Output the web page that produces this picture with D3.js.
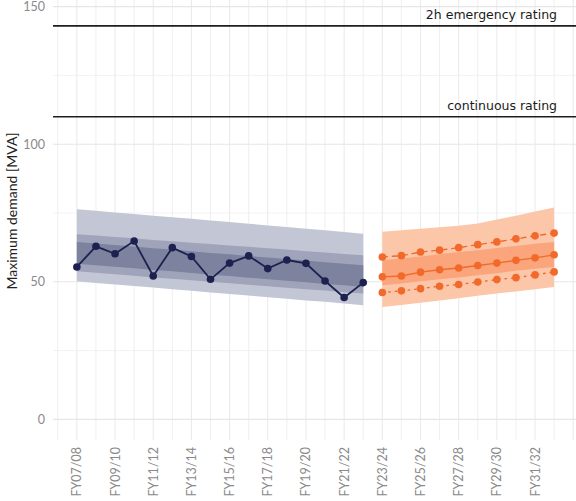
<!DOCTYPE html>
<html>
<head>
<meta charset="utf-8">
<script src="https://cdn.jsdelivr.net/npm/d3@7"></script>
<style>
  html, body { margin: 0; padding: 0; background: #fff; }
  svg { display: block; }
</style>
</head>
<body>
<svg id="chart" width="576" height="501"></svg>
<script>
// ---- data ----
const histYears = d3.range(2007, 2023);
const histDemand = [55.4, 62.9, 60.2, 64.8, 52.1, 62.4, 59.2, 50.9, 56.8, 59.4, 54.8, 57.9, 56.7, 50.3, 44.3, 49.7];
const histOuterHi = [76.4, 75.8, 75.2, 74.6, 74.0, 73.5, 72.9, 72.3, 71.7, 71.1, 70.5, 69.9, 69.3, 68.7, 68.1, 67.5];
const histOuterLo = [50.2, 49.6, 49.0, 48.5, 47.9, 47.3, 46.7, 46.1, 45.6, 45.0, 44.4, 43.8, 43.2, 42.7, 42.1, 41.5];
const histMidHi   = [67.3, 66.8, 66.3, 65.8, 65.2, 64.7, 64.2, 63.7, 63.2, 62.7, 62.2, 61.7, 61.1, 60.6, 60.1, 59.6];
const histMidLo   = [53.8, 53.3, 52.7, 52.2, 51.6, 51.1, 50.6, 50.0, 49.5, 48.9, 48.4, 47.8, 47.3, 46.8, 46.2, 45.7];
const histInHi    = [64.5, 63.9, 63.4, 62.8, 62.2, 61.7, 61.1, 60.5, 60.0, 59.4, 58.8, 58.3, 57.7, 57.1, 56.6, 56.0];
const histInLo    = [56.6, 56.0, 55.5, 54.9, 54.3, 53.8, 53.2, 52.6, 52.1, 51.5, 50.9, 50.4, 49.8, 49.2, 48.7, 48.1];

const fcYears = d3.range(2023, 2033);
const fcHigh = [59.0, 59.5, 60.8, 61.5, 62.4, 63.5, 64.5, 65.6, 66.7, 67.7];
const fcMid  = [51.8, 52.1, 53.5, 54.4, 55.0, 55.9, 56.8, 57.8, 58.7, 59.8];
const fcLow  = [46.1, 46.7, 47.5, 48.4, 49.0, 49.9, 50.8, 51.5, 52.5, 53.6];
const fcOuterHi = [68.2, 68.7, 69.3, 69.8, 70.4, 71.2, 72.6, 74.0, 75.5, 77.0];
const fcOuterLo = [40.8, 41.6, 42.4, 43.2, 44.0, 44.9, 45.7, 46.5, 47.3, 48.1];
const fcMidHi   = [57.8, 58.5, 59.2, 60.0, 60.8, 61.5, 62.3, 63.0, 63.8, 64.5];
const fcMidLo   = [48.7, 49.4, 50.2, 50.9, 51.6, 52.4, 53.1, 54.0, 54.7, 55.4];

const ratings = [
  { name: "2h emergency rating", value: 143 },
  { name: "continuous rating", value: 110 }
];

const yTicks = [0, 50, 100, 150];
const yMinor = [25, 75, 125];
const xLabelYears = d3.range(2007, 2033, 2);
const fyLabel = y => "FY" + String(y % 100).padStart(2, "0") + "/" + String((y + 1) % 100).padStart(2, "0");

// ---- layout ----
const svg = d3.select("#chart");
const panel = { left: 53, right: 578, top: -14, bottom: 440 };

const x = d3.scaleLinear().domain([2005.75, 2033.25]).range([panel.left, panel.right]);
const y = d3.scaleLinear().domain([-7.5, 157.5]).range([panel.bottom, panel.top]);

// ---- grid ----
const grid = svg.append("g");
grid.selectAll("line.vx").data(d3.range(2006, 2034)).join("line")
  .attr("x1", d => x(d)).attr("x2", d => x(d))
  .attr("y1", panel.top).attr("y2", panel.bottom)
  .attr("stroke", "#ebebeb").attr("stroke-width", d => (d % 2 === 1 ? 1.1 : 0.8));
grid.selectAll("line.hy").data(yMinor).join("line")
  .attr("x1", panel.left).attr("x2", panel.right)
  .attr("y1", d => y(d)).attr("y2", d => y(d))
  .attr("stroke", "#efefef").attr("stroke-width", 0.8);
grid.selectAll("line.hm").data(yTicks).join("line")
  .attr("x1", panel.left).attr("x2", panel.right)
  .attr("y1", d => y(d)).attr("y2", d => y(d))
  .attr("stroke", "#e6e6e6").attr("stroke-width", 1.1);

// ---- bands ----
function band(years, lo, hi, fill) {
  const a = d3.area().x((d, i) => x(years[i])).y0((d, i) => y(lo[i])).y1((d, i) => y(hi[i]));
  svg.append("path").datum(years).attr("d", a).attr("fill", fill);
}
band(histYears, histOuterLo, histOuterHi, "#c3c6d5");
band(histYears, histMidLo, histMidHi, "#a0a4bb");
band(histYears, histInLo, histInHi, "#7d829f");

band(fcYears, fcOuterLo, fcOuterHi, "#fcc6a9");
band(fcYears, fcMidLo, fcMidHi, "#fba57c");

// ---- rating lines ----
svg.selectAll("line.rating").data(ratings).join("line")
  .attr("x1", panel.left).attr("x2", 576)
  .attr("y1", d => y(d.value)).attr("y2", d => y(d.value))
  .attr("stroke", "#1e1e1e").attr("stroke-width", 1.6);
svg.selectAll("text.rating").data(ratings).join("text")
  .attr("x", 557).attr("y", d => y(d.value) - 7)
  .attr("text-anchor", "end")
  .attr("font-family", "DejaVu Sans, sans-serif").attr("font-size", 12.5)
  .attr("fill", "#1a1a1a")
  .text(d => d.name);

// ---- historic series ----
const navy = "#1c2150";
const histLine = d3.line().x((d, i) => x(histYears[i])).y(d => y(d));
svg.append("path").datum(histDemand).attr("d", histLine)
  .attr("fill", "none").attr("stroke", navy).attr("stroke-width", 1.8);
svg.selectAll("circle.h").data(histDemand).join("circle")
  .attr("cx", (d, i) => x(histYears[i])).attr("cy", d => y(d)).attr("r", 3.8).attr("fill", navy);

// ---- forecast series ----
const orange = "#f26a2b";
const fcLine = d3.line().x((d, i) => x(fcYears[i])).y(d => y(d));
[[fcHigh, "5,5"], [fcMid, null], [fcLow, "1.5,5"]].forEach(([vals, dash]) => {
  svg.append("path").datum(vals).attr("d", fcLine)
    .attr("fill", "none").attr("stroke", orange).attr("stroke-width", 1.4)
    .attr("stroke-dasharray", dash).attr("stroke-linecap", dash ? "round" : "butt");
  svg.append("g").selectAll("circle").data(vals).join("circle")
    .attr("cx", (d, i) => x(fcYears[i])).attr("cy", d => y(d)).attr("r", 3.8).attr("fill", orange);
});

// ---- axes text ----
svg.selectAll("text.yt").data(yTicks).join("text")
  .attr("x", 45).attr("y", d => y(d)).attr("dy", "0.36em")
  .attr("text-anchor", "end")
  .attr("font-family", "Lato, 'Open Sans', sans-serif").attr("font-size", 12.5)
  .attr("fill", "#8a8a8a")
  .text(d => d);

svg.selectAll("text.xt").data(xLabelYears).join("text")
  .attr("transform", d => `translate(${x(d) + 4.5},447) rotate(-90)`)
  .attr("text-anchor", "end")
  .attr("font-family", "Lato, 'Open Sans', sans-serif").attr("font-size", 12.5)
  .attr("fill", "#8a8a8a")
  .text(fyLabel);

svg.append("text")
  .attr("transform", "translate(17,211) rotate(-90)")
  .attr("text-anchor", "middle")
  .attr("font-family", "Lato, 'Open Sans', sans-serif").attr("font-size", 14)
  .attr("fill", "#222")
  .text("Maximum demand [MVA]");
</script>
</body>
</html>
